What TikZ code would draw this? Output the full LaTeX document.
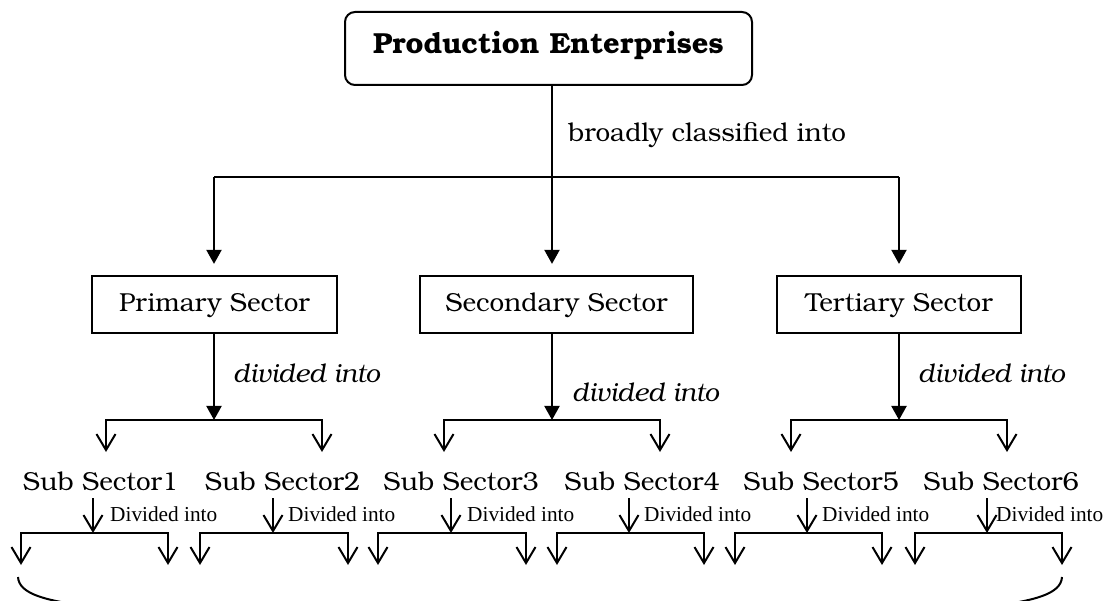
\documentclass[tikz,border=0pt]{standalone}
\usepackage{fontspec}
\setmainfont{texgyrebonum}[Extension=.otf,UprightFont=*-regular,BoldFont=*-bold,ItalicFont=*-italic,BoldItalicFont=*-bolditalic]
\newfontfamily\timesfont{Liberation Serif}
\usetikzlibrary{arrows.meta}
\begin{document}
\begin{tikzpicture}[x=1pt,y=-1pt,
  lw/.style={line width=2pt},
  fillarrow/.style={lw,-{Triangle[length=14pt,width=15pt]}},
  barb/.style={lw,-{Straight Barb[length=16pt,width=19pt]}},
  barbboth/.style={lw,{Straight Barb[length=16pt,width=19pt]}-{Straight Barb[length=16pt,width=19pt]}},
  topbox/.style={draw,line width=2pt,rounded corners=10pt,minimum width=407pt,minimum height=73pt,inner sep=0pt,text height=11pt,text depth=0pt,font=\bfseries\fontsize{29}{34}\selectfont},
  sectorbox/.style={draw,line width=2.2pt,minimum height=57pt,inner sep=0pt,text height=15pt,text depth=0pt,font=\fontsize{26}{30}\selectfont},
  bigtxt/.style={inner sep=0pt,anchor=base west,font=\fontsize{26}{30}\selectfont},
  ittxt/.style={inner sep=0pt,anchor=base west,font=\itshape\fontsize{26}{30}\selectfont},
  subtxt/.style={inner sep=0pt,anchor=base,font=\fontsize{26}{30}\selectfont},
  smalltxt/.style={inner sep=0pt,anchor=base west,font=\timesfont\fontsize{21.3}{25}\selectfont}
]
\useasboundingbox (0,0) rectangle (1114,601);

% top
\node[topbox] (top) at (548.5,48.5) {Production Enterprises};
\coordinate (hl) at (214,177);
\coordinate (hm) at (552,177);
\coordinate (hr) at (899,177);
\draw[lw] (top.south -| hm) -- (hm);
\draw[lw] (hl) -- (hr);
\node[bigtxt] (broad) at (568,142) {broadly classified into};

% sector boxes
\node[sectorbox,minimum width=245pt] (prim) at (214.5,304.5) {Primary Sector};
\node[sectorbox,minimum width=273pt] (sec) at (556.5,304.5) {Secondary Sector};
\node[sectorbox,minimum width=244pt] (ter) at (899,304.5) {Tertiary Sector};

\draw[fillarrow] (hl) -- ([yshift=11pt]prim.north -| hl);
\draw[fillarrow] (hm) -- ([yshift=11pt]sec.north -| hm);
\draw[fillarrow] (hr) -- ([yshift=11pt]ter.north -| hr);

% second level
\coordinate (pb) at (214,420);
\coordinate (sb) at (552,420);
\coordinate (tb) at (899,420);
\draw[fillarrow] (prim.south -| pb) -- (pb);
\draw[fillarrow] (sec.south -| sb) -- (sb);
\draw[fillarrow] (ter.south -| tb) -- (tb);
\node[ittxt] (pdiv) at (233,383) {divided into};
\node[ittxt] (sdiv) at (572,402) {divided into};
\node[ittxt] (tdiv) at (918,383) {divided into};

\coordinate (p1) at (106,452);
\coordinate (p2) at (322,452);
\coordinate (s1) at (444,452);
\coordinate (s2) at (660,452);
\coordinate (t1) at (791,452);
\coordinate (t2) at (1007,452);
\draw[barbboth] (p1) |- (pb) -| (p2);
\draw[barbboth] (s1) |- (sb) -| (s2);
\draw[barbboth] (t1) |- (tb) -| (t2);

% sub sectors
\node[subtxt] (ss1) at (100.5,490) {Sub Sector1};
\node[subtxt] (ss2) at (282.5,490) {Sub Sector2};
\node[subtxt] (ss3) at (461,490) {Sub Sector3};
\node[subtxt] (ss4) at (642,490) {Sub Sector4};
\node[subtxt] (ss5) at (821,490) {Sub Sector5};
\node[subtxt] (ss6) at (1001,490) {Sub Sector6};

\foreach \n/\a/\l/\r/\t in {1/93/21/168/110, 2/273/200/348/288, 3/451/378/526/467, 4/629/557/704/644, 5/807/735/882/822, 6/987/915/1062/996}{
  \coordinate (ssa\n) at (\a,498);
  \coordinate (ssb\n) at (\a,533);
  \coordinate (ssl\n) at (\l,565);
  \coordinate (ssr\n) at (\r,565);
  \draw[barb] (ssa\n) -- (ssb\n);
  \draw[barbboth] (ssl\n) |- (ssb\n) -| (ssr\n);
  \node[smalltxt] (ssd\n) at (\t,521) {Divided into};
}

% bottom brace ends
\coordinate (cl0) at (18,577);
\coordinate (cl1) at (95,607);
\coordinate (cr0) at (1062,577);
\coordinate (cr1) at (985,607);
\draw[lw] (cl0) .. controls (19,594) and (45,601) .. (cl1);
\draw[lw] (cr0) .. controls (1061,594) and (1035,601) .. (cr1);
\end{tikzpicture}
\end{document}
